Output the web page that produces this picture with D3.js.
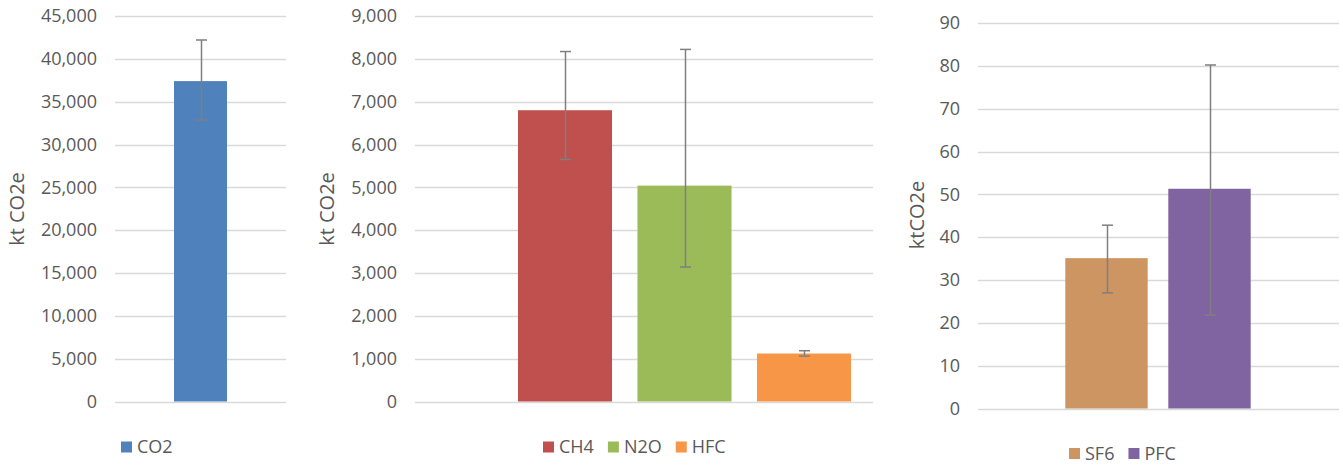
<!DOCTYPE html>
<html>
<head>
<meta charset="utf-8">
<script src="https://cdn.jsdelivr.net/npm/d3@7"></script>
<style>
  html, body { margin: 0; padding: 0; background: #ffffff; }
  svg { display: block; font-family: "Open Sans", sans-serif; }
</style>
</head>
<body>
<svg id="chart" width="1343" height="465"></svg>
<script>
// ---- Data ----
const co2Categories = ["CO2"];
const co2Values = [37400];
const co2ErrLow = [32850];
const co2ErrHigh = [42200];
const co2Ticks = [0, 5000, 10000, 15000, 20000, 25000, 30000, 35000, 40000, 45000];

const midCategories = ["CH4", "N2O", "HFC"];
const midValues = [6800, 5040, 1120];
const midErrLow = [5650, 3140, 1060];
const midErrHigh = [8170, 8220, 1185];
const midTicks = [0, 1000, 2000, 3000, 4000, 5000, 6000, 7000, 8000, 9000];

const fCategories = ["SF6", "PFC"];
const fValues = [35.1, 51.3];
const fErrLow = [27.0, 21.8];
const fErrHigh = [42.8, 80.2];
const fTicks = [0, 10, 20, 30, 40, 50, 60, 70, 80, 90];

const colors = {
  CO2: "#4F81BD", CH4: "#C0504D", N2O: "#9BBB59", HFC: "#F79646",
  SF6: "#CC9562", PFC: "#8064A2"
};

const svg = d3.select("#chart");
const fmt = d3.format(",");

function panel(cfg) {
  const g = svg.append("g");
  const y = d3.scaleLinear().domain([cfg.ticks[0], cfg.ticks[cfg.ticks.length - 1]])
    .range([cfg.yBottom, cfg.yTop]);
  const x = d3.scaleBand().domain(cfg.categories).range(cfg.barRange)
    .paddingInner(cfg.padInner).paddingOuter(cfg.padOuter);

  // gridlines
  g.selectAll("line.grid").data(cfg.ticks).join("line")
    .attr("x1", cfg.gridX[0]).attr("x2", cfg.gridX[1])
    .attr("y1", d => Math.round(y(d)) + 0.5).attr("y2", d => Math.round(y(d)) + 0.5)
    .attr("stroke", "#D9D9D9").attr("stroke-width", 1.3);

  // tick labels via axis
  const axis = d3.axisLeft(y).tickValues(cfg.ticks).tickFormat(cfg.format).tickSize(0).tickPadding(0);
  const ag = g.append("g").attr("transform", `translate(${cfg.gridX[0] - 18},0)`).call(axis);
  ag.select(".domain").remove();
  ag.selectAll("text").attr("fill", "#595959").style("font-size", "18px")
    .style("font-family", "'Open Sans', sans-serif");

  // bars
  g.selectAll("rect.bar").data(cfg.categories).join("rect")
    .attr("x", d => x(d)).attr("width", x.bandwidth())
    .attr("y", (d, i) => y(cfg.values[i]))
    .attr("height", (d, i) => y(0) - y(cfg.values[i]))
    .attr("fill", d => colors[d]);

  // error bars
  const eb = g.selectAll("g.err").data(cfg.categories).join("g")
    .attr("transform", d => `translate(${Math.round(x(d) + x.bandwidth() / 2) + 0.5},0)`);
  eb.append("line").attr("x1", 0).attr("x2", 0)
    .attr("y1", (d, i) => y(cfg.errHigh[i])).attr("y2", (d, i) => y(cfg.errLow[i]));
  eb.append("line").attr("x1", -5.5).attr("x2", 5.5)
    .attr("y1", (d, i) => y(cfg.errHigh[i])).attr("y2", (d, i) => y(cfg.errHigh[i]));
  eb.append("line").attr("x1", -5.5).attr("x2", 5.5)
    .attr("y1", (d, i) => y(cfg.errLow[i])).attr("y2", (d, i) => y(cfg.errLow[i]));
  eb.selectAll("line").attr("stroke", "#7F7F7F").attr("stroke-width", 1.5);

  // axis title
  g.append("text")
    .attr("transform", `translate(${cfg.titleX},${cfg.titleY}) rotate(-90)`)
    .attr("text-anchor", "middle").attr("dy", "0.35em")
    .attr("fill", "#595959").style("font-size", "20px")
    .text(cfg.title);

  // legend
  const lg = g.append("g");
  let cx = cfg.legendX;
  cfg.categories.forEach(c => {
    lg.append("rect").attr("x", cx).attr("y", cfg.legendY - 5.5)
      .attr("width", 11).attr("height", 11).attr("fill", colors[c]);
    const t = lg.append("text").attr("x", cx + 16).attr("y", cfg.legendY)
      .attr("dy", "0.35em").attr("fill", "#595959").style("font-size", "18px").text(c);
    cx += 16 + t.node().getComputedTextLength() + 14;
  });
}

panel({
  categories: co2Categories, values: co2Values, errLow: co2ErrLow, errHigh: co2ErrHigh,
  ticks: co2Ticks, format: fmt, yBottom: 401.5, yTop: 16,
  gridX: [115, 286], barRange: [115, 286], padInner: 0, padOuter: 1.113,
  title: "kt CO2e", titleX: 17, titleY: 209,
  legendX: 121, legendY: 447
});

panel({
  categories: midCategories, values: midValues, errLow: midErrLow, errHigh: midErrHigh,
  ticks: midTicks, format: fmt, yBottom: 401.5, yTop: 16,
  gridX: [415, 873], barRange: [505.25, 863.75], padInner: 0.213, padOuter: 0.1065,
  title: "kt CO2e", titleX: 327, titleY: 209,
  legendX: 543, legendY: 447
});

panel({
  categories: fCategories, values: fValues, errLow: fErrLow, errHigh: fErrHigh,
  ticks: fTicks, format: d3.format("d"), yBottom: 408.5, yTop: 23,
  gridX: [978, 1339], barRange: [1055, 1261], padInner: 0.2, padOuter: 0.1,
  title: "ktCO2e", titleX: 917, titleY: 215,
  legendX: 1069, legendY: 453.5
});
</script>
</body>
</html>
